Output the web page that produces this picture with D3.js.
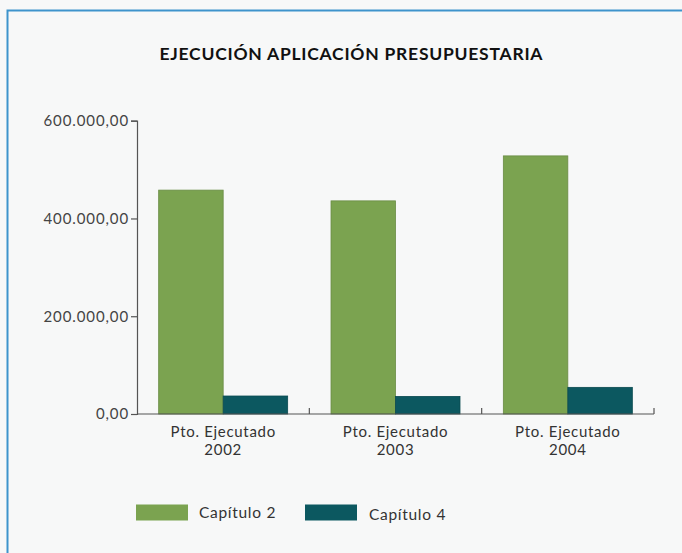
<!DOCTYPE html>
<html>
<head>
<meta charset="utf-8">
<script src="https://cdn.jsdelivr.net/npm/d3@7"></script>
<style>
  html, body { margin: 0; padding: 0; background: #f7f8f8; }
  svg { display: block; }
</style>
</head>
<body>
<svg id="chart" width="682" height="553"></svg>
<script>
// Budget execution by year, chapters 2 and 4
const categories = ["Pto. Ejecutado 2002", "Pto. Ejecutado 2003", "Pto. Ejecutado 2004"];
const seriesNames = ["Capítulo 2", "Capítulo 4"];
const capitulo2 = [458000, 436000, 528000];
const capitulo4 = [36800, 36000, 54500];
const yTicks = [0, 200000, 400000, 600000];

const colors = { "Capítulo 2": "#7ba350", "Capítulo 4": "#0c5860" };
const strokes = { "Capítulo 2": "#6a8c45", "Capítulo 4": "#0a4a50" };

const svg = d3.select("#chart");
const W = 682, H = 553;

// page background and blue frame
svg.append("rect").attr("x", 0).attr("y", 0).attr("width", W).attr("height", H).attr("fill", "#f7f8f8");
svg.append("path")
  .attr("d", "M7.5,553 V10.5 H682")
  .attr("fill", "none").attr("stroke", "#3e94cc").attr("stroke-width", 2);

const font = "Lato, 'Open Sans', sans-serif";

// title
svg.append("text")
  .attr("x", 159.5).attr("y", 59.5)
  .attr("font-family", font).attr("font-weight", 700).attr("font-size", 17.5)
  .attr("textLength", 383).attr("lengthAdjust", "spacing")
  .attr("fill", "#111")
  .text("EJECUCIÓN APLICACIÓN PRESUPUESTARIA");

const margin = { left: 137, right: 654, top: 120.7, bottom: 414 };

const x0 = d3.scaleBand().domain(categories).range([margin.left, margin.right]).paddingInner(0).paddingOuter(0);
const x1 = d3.scaleBand().domain(seriesNames).range([0, x0.bandwidth()]).paddingOuter(0.336).paddingInner(0);
const y = d3.scaleLinear().domain([0, 600000]).range([margin.bottom, margin.top]);

const fmt = v => d3.format(",.2f")(v).replace(/,/g, "#").replace(/\./g, ",").replace(/#/g, ".");

// y axis
const yAxis = svg.append("g").attr("transform", `translate(${margin.left},0)`)
  .call(d3.axisLeft(y).tickValues(yTicks).tickSize(6).tickPadding(2).tickFormat(fmt));
yAxis.select(".domain").attr("stroke", "#555").attr("stroke-width", 1.2);
yAxis.selectAll(".tick line").attr("stroke", "#555").attr("stroke-width", 1.2);
yAxis.selectAll(".tick text")
  .attr("font-family", font).attr("font-size", 15).attr("letter-spacing", 0.9)
  .attr("fill", "#444");

// data rows
const rows = categories.map((c, i) => ({ cat: c, values: [
  { name: seriesNames[0], value: capitulo2[i] },
  { name: seriesNames[1], value: capitulo4[i] }
]}));

// bars
const groups = svg.append("g").selectAll("g").data(rows).join("g")
  .attr("transform", d => `translate(${x0(d.cat)},0)`);
groups.selectAll("rect").data(d => d.values).join("rect")
  .attr("x", d => x1(d.name))
  .attr("width", x1.bandwidth())
  .attr("y", d => y(d.value))
  .attr("height", d => y(0) - y(d.value))
  .attr("fill", d => colors[d.name])
  .attr("stroke", d => strokes[d.name])
  .attr("stroke-width", 0.8);

// x axis with upward separator ticks at band edges
const xAxisG = svg.append("g");
xAxisG.append("line")
  .attr("x1", margin.left).attr("x2", margin.right)
  .attr("y1", y(0)).attr("y2", y(0))
  .attr("stroke", "#555").attr("stroke-width", 1.2);
xAxisG.selectAll("line.sep").data(categories).join("line")
  .attr("class", "sep")
  .attr("x1", d => x0(d) + x0.bandwidth()).attr("x2", d => x0(d) + x0.bandwidth())
  .attr("y1", y(0)).attr("y2", y(0) - 6)
  .attr("stroke", "#555").attr("stroke-width", 1.2);

// category labels, two lines each
const catLabel = svg.append("g")
  .attr("font-family", font).attr("font-size", 15).attr("letter-spacing", 0.7)
  .attr("fill", "#333").attr("text-anchor", "middle");
catLabel.selectAll("text.l1").data(categories).join("text")
  .attr("class", "l1")
  .attr("x", d => x0(d) + x0.bandwidth() / 2)
  .attr("y", 436.5)
  .text(d => d.split(" ").slice(0, 2).join(" "));
catLabel.selectAll("text.l2").data(categories).join("text")
  .attr("class", "l2")
  .attr("x", d => x0(d) + x0.bandwidth() / 2)
  .attr("y", 454.8)
  .text(d => d.split(" ")[2]);

// legend
const legendItems = [
  { name: seriesNames[0], x: 136, tx: 199 },
  { name: seriesNames[1], x: 305, tx: 369 }
];
const legend = svg.append("g");
legend.selectAll("rect").data(legendItems).join("rect")
  .attr("x", d => d.x).attr("y", 504.5).attr("width", 52).attr("height", 16)
  .attr("fill", d => colors[d.name]);
legend.selectAll("text").data(legendItems).join("text")
  .attr("x", d => d.tx).attr("y", (d, i) => 518 + i * 2)
  .attr("font-family", font).attr("font-size", 15.5).attr("letter-spacing", 0.7)
  .attr("fill", "#333")
  .text(d => d.name);
</script>
</body>
</html>
